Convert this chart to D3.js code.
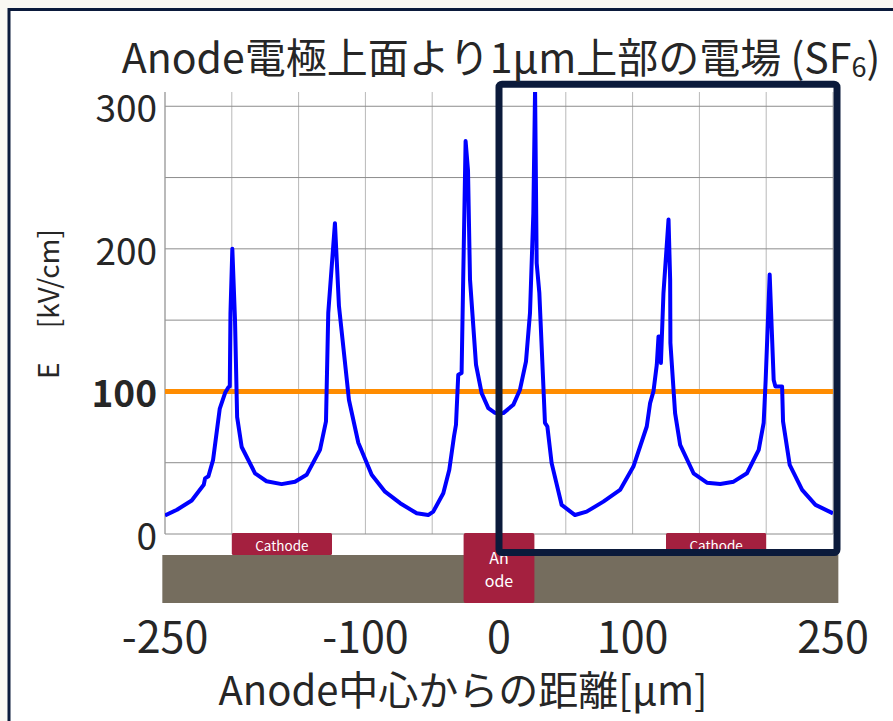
<!DOCTYPE html>
<html lang="ja">
<head>
<meta charset="utf-8">
<title>Anode電極上面より1µm上部の電場</title>
<script src="https://cdn.jsdelivr.net/npm/d3@7"></script>
<style>
html, body { margin: 0; padding: 0; background: #faf8f3; }
svg { display: block; font-family: "Noto Sans CJK JP", "Noto Sans", sans-serif; }
.grid-v line { stroke: #b8b8b8; stroke-width: 1; }
.grid-h line { stroke: #8c8c8c; stroke-width: 1; }
.tick-label { fill: #262626; }
</style>
</head>
<body>
<div id="chart"></div>
<script>

// distance from anode centre [µm] and field 1µm above the anode surface [kV/cm]
var distance = [
  -250, -241, -230, -221, -220, -217.5, -214, -209, -205, -202.5, -201.5, -201, -199.6, -197.6, -196,
  -192.6, -182.6, -174, -162.7, -152.7, -144, -134, -129.5, -127.8, -122.8, -119.8, -112.3, -105.3,
  -95.3, -85.3, -74, -61.6, -53, -49.2, -41.7, -37.2, -33.7, -32.2, -30.5, -28, -26.8, -25, -23.2,
  -21.7, -17.2, -13, -8, -3, 0, 3.2, 10.7, 15.7, 20.2, 23.2, 25.7, 27, 28.2, 30.2, 34.4, 36.2, 39.4,
  46.9, 56.9, 65.6, 78.1, 90.6, 100.6, 110.6, 113.1, 115.6, 118.1, 119.4, 120.2, 121.2, 123.1, 126.9,
  128.1, 128.3, 131.8, 135.6, 145.6, 155.6, 165.6, 175.6, 185.6, 194.4, 198.1, 199.6, 202.6, 205.6,
  206.9, 211.9, 212.6, 217.6, 226.9, 236.9, 250
];
var field = [
  13, 17, 23.5, 34.5, 39, 40.5, 52, 88, 99, 103, 103.5, 155, 200, 150, 82,
  61, 42.5, 37, 35, 36.7, 41.5, 59, 79, 155, 218, 160, 94, 64,
  41.5, 29.7, 21.6, 14.5, 13.3, 15.7, 28.6, 45, 68.4, 76.6, 111.7, 113, 178.5, 275.6, 255,
  178.5, 118.7, 98.8, 88.3, 85, 84.5, 84.8, 90.6, 101.2, 121, 155, 225, 312, 190, 169, 78, 75.4, 49.7,
  20.4, 13.3, 15.7, 22.7, 30.9, 47.3, 75.4, 91.8, 100, 118.7, 138.6, 138.6, 120, 169, 220.6,
  178.5, 134, 84.8, 62.5, 42.6, 36, 35.1, 36.7, 42.6, 59, 78, 108, 182, 108,
  103.5, 103.5, 79, 48.5, 30.9, 20.4, 14.5
];

var threshold = 100;            // kV/cm reference line
var yTicks = [0, 100, 200, 300];
var yGrid = [0, 50, 100, 150, 200, 250, 300];
var xTicks = [-250, -100, 0, 100, 250];
var xGrid = d3.range(-250, 251, 50);

// electrode layout under the plot [µm]
var cathodes = [[-200, -125], [125, 200]];
var anode = [-26.5, 26.5];
var substrate = [-252, 254];
// highlighted region [µm, kV/cm]
var highlight = { x0: 0, x1: 253, y0: -13, y1: 315.5 };

var width = 893, height = 721;
var margin = { top: 92, right: 60, bottom: 187, left: 165 };

var svg = d3.select("#chart").append("svg")
    .attr("width", width)
    .attr("height", height);

// white panel with a navy frame
svg.append("rect")
    .attr("x", 9).attr("y", 9.5)
    .attr("width", width + 20).attr("height", height + 20)
    .attr("fill", "#fff")
    .attr("stroke", "#0b1a3b")
    .attr("stroke-width", 3);

var x = d3.scaleLinear()
    .domain([-250, 250])
    .range([margin.left, 833]);

var y = d3.scaleLinear()
    .domain([0, 310])
    .range([534, margin.top]);

svg.append("clipPath").attr("id", "plot-clip")
  .append("rect")
    .attr("x", x.range()[0]).attr("y", y.range()[1])
    .attr("width", x.range()[1] - x.range()[0])
    .attr("height", y.range()[0] - y.range()[1]);

// grid
svg.append("g").attr("class", "grid-v")
  .selectAll("line").data(xGrid).enter().append("line")
    .attr("x1", d => x(d)).attr("x2", d => x(d))
    .attr("y1", y(0)).attr("y2", y.range()[1]);

svg.append("g").attr("class", "grid-h")
  .selectAll("line").data(yGrid).enter().append("line")
    .attr("x1", x(-250)).attr("x2", x(250))
    .attr("y1", d => y(d)).attr("y2", d => y(d));

svg.append("line")
    .attr("x1", x(-250)).attr("x2", x(-250))
    .attr("y1", y(0)).attr("y2", y.range()[1])
    .attr("stroke", "#999");

// substrate and electrodes
svg.append("rect")
    .attr("x", x(substrate[0])).attr("y", 555)
    .attr("width", x(substrate[1]) - x(substrate[0])).attr("height", 48)
    .attr("fill", "#756d5e");

var cat = svg.append("g").selectAll("g").data(cathodes).enter().append("g");
cat.append("rect")
    .attr("x", d => x(d[0])).attr("y", 533)
    .attr("width", d => x(d[1]) - x(d[0])).attr("height", 22)
    .attr("rx", 1.5)
    .attr("fill", "#a4203f");
cat.append("text")
    .attr("x", d => x((d[0] + d[1]) / 2)).attr("y", 545)
    .attr("text-anchor", "middle").attr("dominant-baseline", "central")
    .attr("fill", "#fff").attr("font-size", 13.5)
    .text("Cathode");

svg.append("rect")
    .attr("x", x(anode[0])).attr("y", 533)
    .attr("width", x(anode[1]) - x(anode[0])).attr("height", 70)
    .attr("rx", 2)
    .attr("fill", "#a4203f");
svg.append("text")
    .attr("fill", "#fff").attr("font-size", 16)
    .attr("text-anchor", "middle")
  .selectAll("tspan").data(["An", "ode"]).enter().append("tspan")
    .attr("x", x(0))
    .attr("y", (d, i) => 564 + i * 23)
    .text(d => d);

// threshold line
svg.append("line")
    .attr("x1", x(-250)).attr("x2", x(250))
    .attr("y1", y(threshold)).attr("y2", y(threshold))
    .attr("stroke", "#ff8c00")
    .attr("stroke-width", 5);

// field curve
var points = distance.map((d, i) => [d, field[i]]);
var line = d3.line()
    .x(d => x(d[0]))
    .y(d => y(d[1]));

svg.append("path")
    .datum(points)
    .attr("clip-path", "url(#plot-clip)")
    .attr("fill", "none")
    .attr("stroke", "#0000ff")
    .attr("stroke-width", 4)
    .attr("stroke-linejoin", "round")
    .attr("d", line);

// highlight box
svg.append("rect")
    .attr("x", x(highlight.x0)).attr("y", y(highlight.y1))
    .attr("width", x(highlight.x1) - x(highlight.x0))
    .attr("height", y(highlight.y0) - y(highlight.y1))
    .attr("rx", 3)
    .attr("fill", "none")
    .attr("stroke", "#0b1a3b")
    .attr("stroke-width", 7);

// tick labels
svg.append("g").selectAll("text").data(yTicks).enter().append("text")
    .attr("class", "tick-label")
    .attr("x", 157).attr("y", d => y(d))
    .attr("text-anchor", "end").attr("dominant-baseline", "central")
    .attr("font-size", 37)
    .attr("font-weight", d => d === threshold ? "bold" : null)
    .text(d => d);

svg.append("g").selectAll("text").data(xTicks).enter().append("text")
    .attr("class", "tick-label")
    .attr("x", d => x(d)).attr("y", 634)
    .attr("text-anchor", "middle").attr("dominant-baseline", "central")
    .attr("font-size", 43)
    .text(d => d);

// axis titles
svg.append("text")
    .attr("class", "tick-label")
    .attr("x", 463).attr("y", 688)
    .attr("text-anchor", "middle").attr("dominant-baseline", "central")
    .attr("font-size", 40)
    .text("Anode中心からの距離[µm]");

svg.append("text")
    .attr("class", "tick-label")
    .attr("transform", "translate(47,304) rotate(-90)")
    .attr("text-anchor", "middle").attr("dominant-baseline", "central")
    .attr("font-size", 28)
    .text("E\u3000 [kV/cm]");

var title = svg.append("text")
    .attr("class", "tick-label")
    .attr("x", 501).attr("y", 55)
    .attr("text-anchor", "middle").attr("dominant-baseline", "central")
    .attr("font-size", 41);
title.append("tspan").text("Anode電極上面より1µm上部の電場 (SF");
title.append("tspan").attr("font-size", 27).attr("dy", 10).text("6");
title.append("tspan").attr("dy", -10).text(")");

</script>
</body>
</html>
